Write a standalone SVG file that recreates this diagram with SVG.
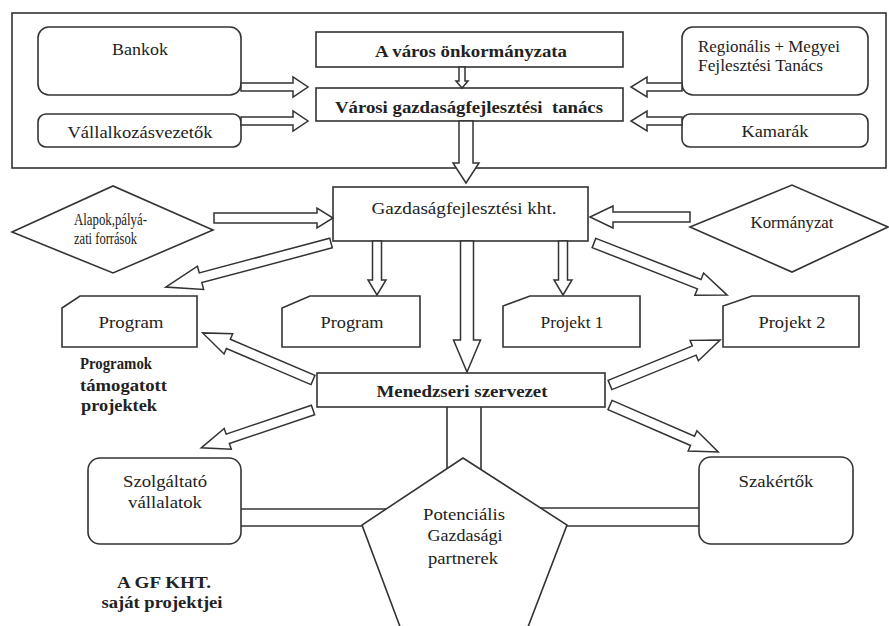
<svg xmlns="http://www.w3.org/2000/svg" width="889" height="626" viewBox="0 0 889 626">
<style>
.box{fill:#fff;stroke:#333;stroke-width:1.6}
.ln{fill:none;stroke:#333;stroke-width:1.6}
.arr{fill:#fff;stroke:#333;stroke-width:1.5;stroke-linejoin:miter}
.t{font-family:"Liberation Serif","Times New Roman",serif;fill:#222;font-size:17px}
.b{font-weight:bold}
.m{text-anchor:middle}
</style>
<rect width="889" height="626" fill="#fff"/>
<g id="frame"><rect class="box" x="12" y="13" width="874" height="155"/></g>
<g id="connectors">
<line class="ln" x1="447" y1="407" x2="447" y2="480"/>
<line class="ln" x1="481" y1="407" x2="481" y2="480"/>
<line class="ln" x1="241" y1="509" x2="420" y2="509"/>
<line class="ln" x1="241" y1="526" x2="420" y2="526"/>
<line class="ln" x1="510" y1="508" x2="699" y2="508"/>
<line class="ln" x1="510" y1="526" x2="699" y2="526"/>
</g>
<g id="nodes">
<g id="bankok"><rect class="box" x="38" y="27" width="203" height="68" rx="11"/><text class="t m" x="140" y="55" textLength="56" lengthAdjust="spacingAndGlyphs">Bankok</text></g>
<g id="vallalkozas"><rect class="box" x="38" y="114" width="203" height="33" rx="8"/><text class="t m" x="140" y="138" textLength="145" lengthAdjust="spacingAndGlyphs">Vállalkozásvezetők</text></g>
<g id="onkormanyzat"><rect class="box" x="316" y="32" width="307" height="35"/><text class="t b m" x="471" y="57" textLength="192" lengthAdjust="spacingAndGlyphs">A város önkormányzata</text></g>
<g id="gfttanacs"><rect class="box" x="316" y="88" width="307" height="33"/><text class="t b m" x="469" y="113" textLength="268" lengthAdjust="spacingAndGlyphs" xml:space="preserve">Városi gazdaságfejlesztési  tanács</text></g>
<g id="regionalis"><rect class="box" x="682" y="27" width="186" height="68" rx="11"/><text class="t" x="698" y="52" font-size="15" textLength="142" lengthAdjust="spacingAndGlyphs">Regionális + Megyei</text><text class="t" x="698" y="71" font-size="15" textLength="125" lengthAdjust="spacingAndGlyphs">Fejlesztési Tanács</text></g>
<g id="kamarak"><rect class="box" x="682" y="114" width="186" height="33" rx="8"/><text class="t m" x="775" y="137" textLength="67" lengthAdjust="spacingAndGlyphs">Kamarák</text></g>
<g id="gfkht"><rect class="box" x="333" y="187" width="255" height="54"/><text class="t m" x="464" y="214" textLength="185" lengthAdjust="spacingAndGlyphs">Gazdaságfejlesztési kht.</text></g>
<g id="alapok"><polygon class="box" points="12,232 113,186 213,230 113,273"/><text class="t" x="74" y="225" font-size="13" textLength="73" lengthAdjust="spacingAndGlyphs">Alapok,pályá-</text><text class="t" x="74" y="244" font-size="13" textLength="63" lengthAdjust="spacingAndGlyphs">zati források</text></g>
<g id="kormanyzat"><polygon class="box" points="690,227 792,185 888,227 792,272"/><text class="t m" x="792" y="228" textLength="83" lengthAdjust="spacingAndGlyphs">Kormányzat</text></g>
<g id="program1"><polygon class="box" points="80,296 197,296 197,347 62,347 62,308"/><text class="t m" x="131" y="328" textLength="65" lengthAdjust="spacingAndGlyphs">Program</text></g>
<g id="program2"><polygon class="box" points="310,296 420,296 420,347 282,347 282,308"/><text class="t m" x="352" y="328" textLength="63" lengthAdjust="spacingAndGlyphs">Program</text></g>
<g id="projekt1"><polygon class="box" points="530,296 640,296 640,347 503,347 503,306"/><text class="t m" x="572" y="328" textLength="63" lengthAdjust="spacingAndGlyphs">Projekt 1</text></g>
<g id="projekt2"><polygon class="box" points="752,296 859,296 859,347 723,347 723,306"/><text class="t m" x="792" y="328" textLength="67" lengthAdjust="spacingAndGlyphs">Projekt 2</text></g>
<g id="menedzseri"><rect class="box" x="317" y="373" width="288" height="34"/><text class="t b m" x="462" y="397" textLength="171" lengthAdjust="spacingAndGlyphs">Menedzseri szervezet</text></g>
<g id="szolgaltato"><rect class="box" x="88" y="458" width="153" height="86" rx="12"/><text class="t m" x="165" y="487" textLength="84" lengthAdjust="spacingAndGlyphs">Szolgáltató</text><text class="t m" x="165" y="508" textLength="74" lengthAdjust="spacingAndGlyphs">vállalatok</text></g>
<g id="szakertok"><rect class="box" x="699" y="457" width="154" height="87" rx="12"/><text class="t m" x="776" y="487" textLength="75" lengthAdjust="spacingAndGlyphs">Szakértők</text></g>
<g id="potencialis"><polygon class="box" points="463,458 567,525 523,640 405,640 362,525"/><text class="t m" x="464" y="520" textLength="82" lengthAdjust="spacingAndGlyphs">Potenciális</text><text class="t m" x="465" y="541" textLength="75" lengthAdjust="spacingAndGlyphs">Gazdasági</text><text class="t m" x="463" y="564" textLength="70" lengthAdjust="spacingAndGlyphs">partnerek</text></g>
</g>
<g id="labels">
<text class="t b" x="80" y="369" font-size="13" textLength="72" lengthAdjust="spacingAndGlyphs">Programok</text>
<text class="t b" x="80" y="391" font-size="16" textLength="87" lengthAdjust="spacingAndGlyphs">támogatott</text>
<text class="t b" x="81" y="411" font-size="16" textLength="76" lengthAdjust="spacingAndGlyphs">projektek</text>
<text class="t b m" x="164" y="588" textLength="94" lengthAdjust="spacingAndGlyphs">A GF KHT.</text>
<text class="t b m" x="162" y="608" textLength="121" lengthAdjust="spacingAndGlyphs">saját projektjei</text>
</g>
<g id="arrows">
<polygon class="arr" transform="translate(241,87)" points="0,-4 52,-4 52,-10 67,0 52,10 52,4 0,4"/>
<polygon class="arr" transform="translate(241,121)" points="0,-4 52,-4 52,-10 67,0 52,10 52,4 0,4"/>
<polygon class="arr" transform="translate(682,87) rotate(180)" points="0,-4 35,-4 35,-10 51,0 35,10 35,4 0,4"/>
<polygon class="arr" transform="translate(682,121) rotate(180)" points="0,-4 35,-4 35,-10 51,0 35,10 35,4 0,4"/>
<polygon class="arr" transform="translate(462,67) rotate(90)" points="0,-3 14,-3 14,-6 21,0 14,6 14,3 0,3"/>
<polygon class="arr" transform="translate(466,121) rotate(90)" points="0,-7 42,-7 42,-13 62,0 42,13 42,7 0,7"/>
<polygon class="arr" transform="translate(214,218)" points="0,-5 103,-5 103,-10 119,0 103,10 103,5 0,5"/>
<polygon class="arr" transform="translate(690,217) rotate(180)" points="0,-5 77,-5 77,-11 100,0 77,11 77,5 0,5"/>
<polygon class="arr" transform="translate(331,243) rotate(165.07)" points="0,-5 135,-5 135,-12 171,0 135,12 135,5 0,5"/>
<polygon class="arr" transform="translate(377,241) rotate(90)" points="0,-4.5 39,-4.5 39,-9 54,0 39,9 39,4.5 0,4.5"/>
<polygon class="arr" transform="translate(563,241) rotate(90)" points="0,-4.5 39,-4.5 39,-9 54,0 39,9 39,4.5 0,4.5"/>
<polygon class="arr" transform="translate(594,243) rotate(21.36)" points="0,-5 113,-5 113,-12 143,0 113,12 113,5 0,5"/>
<polygon class="arr" transform="translate(467,241) rotate(90)" points="0,-6.5 99,-6.5 99,-13.5 131,0 99,13.5 99,6.5 0,6.5"/>
<polygon class="arr" transform="translate(313,380) rotate(-156.9)" points="0,-5 92,-5 92,-11 120,0 92,11 92,5 0,5"/>
<polygon class="arr" transform="translate(313,410) rotate(161.3)" points="0,-5 90,-5 90,-11 118,0 90,11 90,5 0,5"/>
<polygon class="arr" transform="translate(610,385) rotate(-22.25)" points="0,-5 91,-5 91,-11 119,0 91,11 91,5 0,5"/>
<polygon class="arr" transform="translate(610,405) rotate(23.5)" points="0,-5 90,-5 90,-11 118,0 90,11 90,5 0,5"/>
</g>
</svg>
